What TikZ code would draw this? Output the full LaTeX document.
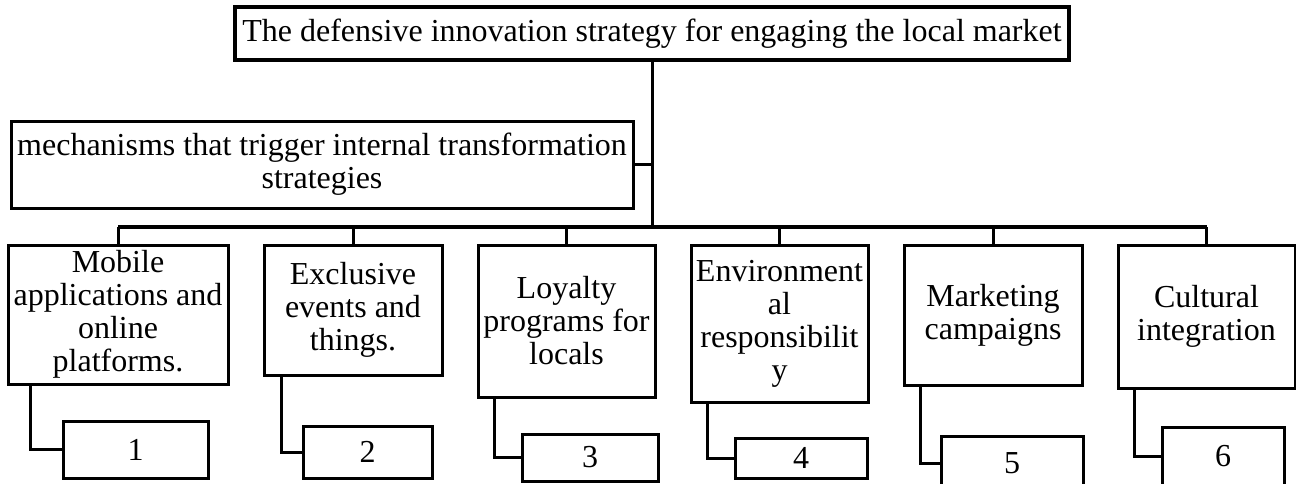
\documentclass[tikz,border=0pt]{standalone}
\usepackage{fontspec}
\setmainfont{Liberation Serif}
\begin{document}
\begin{tikzpicture}[x=1pt,y=-1pt,
  every node/.style={font=\fontsize{32}{33}\selectfont},
  box/.style={draw=black,line width=3pt,rectangle,inner sep=0pt,align=center,fill=white},
  topbox/.style={box,line width=4pt},
  link/.style={draw=black,line width=3pt},
  busline/.style={draw=black,line width=4pt}]
\fill[white] (0,0) rectangle (1296,483);
\useasboundingbox (0,0) rectangle (1296,483);
\clip (0,0) rectangle (1296,483);
% top level
\node[topbox,minimum width=834pt,minimum height=53pt] (top) at (652,33.5)
  {The defensive innovation strategy for engaging the local market};
\node[box,minimum width=622pt,minimum height=87pt] (mech) at (322,164.5)
  {mechanisms that trigger internal transformation\\strategies};
\coordinate (bus) at (652,227);
% category boxes
\node[box,minimum width=220pt,minimum height=139pt] (b1) at (118,314.5)
  {Mobile\\applications and\\online\\platforms.};
\node[box,minimum width=178pt,minimum height=130pt] (b2) at (353,310)
  {Exclusive\\events and\\things.};
\node[box,minimum width=177pt,minimum height=152pt] (b3) at (566.5,321)
  {Loyalty\\programs for\\locals};
\node[box,minimum width=177pt,minimum height=157pt] (b4) at (779.5,323.5)
  {Environment\\al\\responsibilit\\y};
\node[box,minimum width=178pt,minimum height=140pt] (b5) at (993,315)
  {Marketing\\campaigns};
\node[box,minimum width=177pt,minimum height=143pt] (b6) at (1206.5,316.5)
  {Cultural\\integration};
% number boxes
\node[box,minimum width=145pt,minimum height=57pt] (n1) at (135.5,449.5) {1};
\node[box,minimum width=129pt,minimum height=52pt] (n2) at (367.5,452) {2};
\node[box,minimum width=136pt,minimum height=47pt] (n3) at (590,457.5) {3};
\node[box,minimum width=132pt,minimum height=40pt] (n4) at (801,458) {4};
\node[box,minimum width=142pt,minimum height=54pt] (n5) at (1012,463) {5};
\node[box,minimum width=122pt,minimum height=59pt] (n6) at (1223,456.5) {6};
% connectors
\draw[link] (top.south) -- (bus);
\draw[link] (mech.east) -- (mech.east -| bus);
\draw[busline] (b1.north |- bus) -- (b6.north |- bus);
\foreach \b in {b1,b2,b3,b4,b5,b6}{
  \draw[link] (\b.north) -- (\b.north |- bus);
}
\draw[link] (b1.south west) ++(24,0) |- (n1.west);
\draw[link] (b2.south west) ++(19,0) |- (n2.west);
\draw[link] (b3.south west) ++(18,0) |- (n3.west);
\draw[link] (b4.south west) ++(18,0) |- (n4.west);
\draw[link] (b5.south west) ++(18,0) |- (n5.west);
\draw[link] (b6.south west) ++(18,0) |- (n6.west);
\end{tikzpicture}
\end{document}
